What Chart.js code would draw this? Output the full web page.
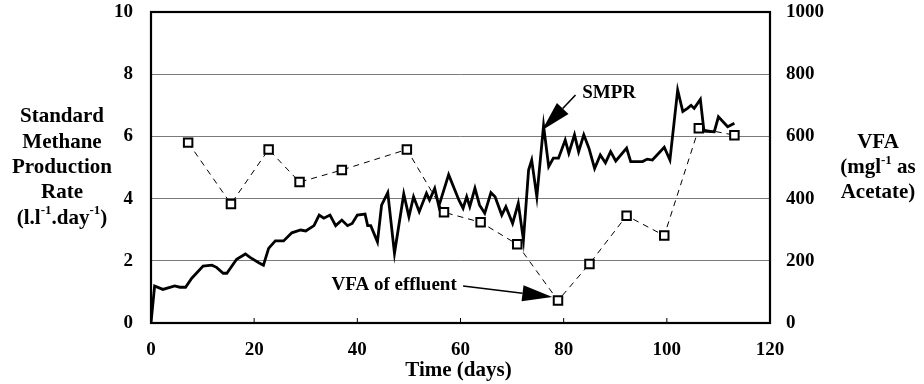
<!DOCTYPE html>
<html>
<head>
<meta charset="utf-8">
<script src="https://cdn.jsdelivr.net/npm/chart.js@4.4.0/dist/chart.umd.min.js"></script>
<style>
  body { margin: 0; background: #fff; }
  #wrap { width: 924px; height: 384px; position: relative; }
</style>
</head>
<body>
<div id="wrap"><canvas id="grafico"></canvas></div>
<script>
// SMPR (l/l.day)
var smprDias = [0, 0.7, 2.3, 4.6, 5.6, 6.7, 7.9, 10.1, 11.8, 12.7, 14.0, 14.7, 16.6, 18.3, 19.2, 20.9, 21.8,
    22.8, 24.1, 25.7, 27.3, 29.0, 30.0, 31.6, 32.6, 33.5, 34.7, 35.8, 37.0, 38.1, 39.0, 40.0, 41.5, 42.0,
    42.6, 43.9, 44.7, 45.9, 47.2, 49.0, 50.0, 50.9, 52.0, 53.4, 54.0, 55.0, 55.8, 57.7, 59.7, 60.5, 61.2,
    61.8, 62.8, 63.7, 64.7, 65.9, 66.7, 68.0, 68.8, 70.1, 71.2, 72.2, 73.2, 73.8, 74.8, 76.1, 77.1, 78.0,
    79.0, 80.3, 81.0, 82.1, 82.9, 83.9, 84.9, 86.0, 87.1, 88.1, 89.1, 90.1, 92.2, 93.0, 95.3, 96.2, 97.2,
    99.5, 100.6, 102.1, 103.1, 104.0, 104.7, 105.3, 106.5, 107.2, 109.2, 110.0, 111.8, 113.1];
var smprValores = [0, 1.19, 1.08, 1.19, 1.15, 1.15, 1.44, 1.83, 1.86, 1.79, 1.6, 1.6, 2.05, 2.22, 2.11, 1.94, 1.86,
    2.4, 2.64, 2.64, 2.9, 2.99, 2.96, 3.13, 3.47, 3.37, 3.47, 3.13, 3.31, 3.13, 3.2, 3.47, 3.5, 3.13,
    3.13, 2.61, 3.79, 4.19, 2.24, 4.15, 3.42, 4.06, 3.58, 4.17, 3.95, 4.33, 3.76, 4.77, 3.95, 3.69, 4.06,
    3.74, 4.33, 3.79, 3.53, 4.19, 4.06, 3.47, 3.74, 3.2, 3.85, 2.67, 4.92, 5.24, 4.06, 6.35, 5.03, 5.3,
    5.3, 5.88, 5.46, 6.05, 5.51, 6.05, 5.62, 4.97, 5.4, 5.15, 5.51, 5.21, 5.62, 5.19, 5.19, 5.27, 5.24,
    5.65, 5.24, 7.49, 6.8, 6.9, 7.0, 6.9, 7.19, 6.17, 6.15, 6.63, 6.31, 6.42];

// VFA of effluent (mg/l as acetate)
var vfaDias = [7.2, 15.5, 22.8, 28.8, 37.0, 49.6, 56.8, 63.9, 71.0, 78.9, 85.0, 92.2, 99.5, 106.2, 113.1];
var vfaValores = [580, 383, 558, 453, 492, 558, 356, 324, 253, 72, 190, 345, 281, 626, 604];

var ticksX = [0, 20, 40, 60, 80, 100, 120];

function MontarPontos(xs, ys) {
    var pontos = [];
    for (var i = 0; i < xs.length; i++) pontos.push({ x: xs[i], y: ys[i] });
    return pontos;
}

var fonte = "'Liberation Serif', 'Times New Roman', serif";

// text with superscripts, centred at cx
function TextoRico(ctx, partes, cx, cy, tam) {
    var total = 0;
    partes.forEach(function (p) {
        ctx.font = 'bold ' + (p.sup ? Math.round(tam * 0.62) : tam) + 'px ' + fonte;
        p.w = ctx.measureText(p.t).width;
        total += p.w;
    });
    var x = cx - total / 2;
    ctx.textAlign = 'left';
    ctx.textBaseline = 'middle';
    partes.forEach(function (p) {
        ctx.font = 'bold ' + (p.sup ? Math.round(tam * 0.62) : tam) + 'px ' + fonte;
        ctx.fillText(p.t, x, p.sup ? cy - tam * 0.35 : cy);
        x += p.w;
    });
}

function Seta(ctx, x1, y1, x2, y2) {
    var ang = Math.atan2(y2 - y1, x2 - x1);
    var comp = 30, larg = 8;
    var bx = x2 - comp * Math.cos(ang), by = y2 - comp * Math.sin(ang);
    ctx.strokeStyle = '#000';
    ctx.lineWidth = 1.6;
    ctx.beginPath();
    ctx.moveTo(x1, y1);
    ctx.lineTo(bx, by);
    ctx.stroke();
    ctx.fillStyle = '#000';
    ctx.beginPath();
    ctx.moveTo(x2, y2);
    ctx.lineTo(bx + larg * Math.sin(ang), by - larg * Math.cos(ang));
    ctx.lineTo(bx - larg * Math.sin(ang), by + larg * Math.cos(ang));
    ctx.closePath();
    ctx.fill();
}

var moldura = {
    id: 'moldura',
    afterDatasetsDraw: function (chart) {
        var ctx = chart.ctx, a = chart.chartArea;
        var sx = chart.scales.x, sy = chart.scales.y;
        ctx.save();
        // box
        ctx.strokeStyle = '#000';
        ctx.lineWidth = 2.2;
        ctx.strokeRect(a.left, a.top, a.right - a.left, a.bottom - a.top);
        // small inner ticks on x axis
        ctx.lineWidth = 1;
        ticksX.forEach(function (t) {
            var px = sx.getPixelForValue(t);
            ctx.beginPath();
            ctx.moveTo(px, a.bottom);
            ctx.lineTo(px, a.bottom - 5);
            ctx.stroke();
        });

        // annotations
        ctx.fillStyle = '#000';
        ctx.font = 'bold 19px ' + fonte;
        ctx.textAlign = 'left';
        ctx.textBaseline = 'middle';
        ctx.fillText('SMPR', sx.getPixelForValue(83.6), sy.getPixelForValue(7.4));
        Seta(ctx, sx.getPixelForValue(82.3), sy.getPixelForValue(7.33),
            sx.getPixelForValue(75.8), sy.getPixelForValue(6.2));
        ctx.fillText('VFA of effluent', sx.getPixelForValue(35.0), sy.getPixelForValue(1.22));
        Seta(ctx, sx.getPixelForValue(60.5), sy.getPixelForValue(1.19),
            sx.getPixelForValue(77.8), sy.getPixelForValue(0.84));

        // axis titles
        var h = 25.3;
        var cx = 62, y0 = 117;
        TextoRico(ctx, [{ t: 'Standard' }], cx, y0, 21);
        TextoRico(ctx, [{ t: 'Methane' }], cx, y0 + h, 21);
        TextoRico(ctx, [{ t: 'Production' }], cx, y0 + 2 * h, 21);
        TextoRico(ctx, [{ t: 'Rate' }], cx, y0 + 3 * h, 21);
        TextoRico(ctx, [{ t: '(l.l' }, { t: '-1', sup: true }, { t: '.day' }, { t: '-1', sup: true }, { t: ')' }], cx, y0 + 4 * h, 21);

        var rx = 878;
        TextoRico(ctx, [{ t: 'VFA' }], rx, 143, 21);
        TextoRico(ctx, [{ t: '(mgl' }, { t: '-1', sup: true }, { t: ' as' }], rx, 168, 21);
        TextoRico(ctx, [{ t: 'Acetate)' }], rx, 193, 21);

        TextoRico(ctx, [{ t: 'Time (days)' }], (a.left + a.right) / 2 - 2, 371, 21);
        ctx.restore();
    }
};

function SemPadding(s) {
    s.paddingTop = 0;
    s.paddingBottom = 0;
    s.paddingLeft = 0;
    s.paddingRight = 0;
}

var ctx = document.getElementById('grafico').getContext('2d');

var grafico = new Chart(ctx, {
    type: 'line',
    data: {
        datasets: [{
            label: 'SMPR',
            data: MontarPontos(smprDias, smprValores),
            yAxisID: 'y',
            borderColor: '#000',
            borderWidth: 2.8,
            pointRadius: 0,
            tension: 0,
            borderJoinStyle: 'miter'
        }, {
            label: 'VFA of effluent',
            data: MontarPontos(vfaDias, vfaValores),
            yAxisID: 'y2',
            borderColor: '#000',
            borderWidth: 1,
            borderDash: [6, 5],
            pointStyle: 'rect',
            pointRadius: 6,
            pointBorderWidth: 2,
            pointBackgroundColor: '#fff',
            pointBorderColor: '#000',
            tension: 0
        }]
    },
    options: {
        responsive: true,
        maintainAspectRatio: false,
        animation: false,
        events: [],
        layout: { padding: { top: 12, left: 0, right: 0, bottom: 0 } },
        plugins: {
            legend: { display: false },
            tooltip: { enabled: false }
        },
        scales: {
            x: {
                type: 'linear',
                min: 0,
                max: 120,
                afterBuildTicks: function (s) { s.ticks = ticksX.map(function (v) { return { value: v }; }); },
                grid: { display: false, drawTicks: false },
                border: { display: false },
                ticks: { color: '#000', padding: 16, maxRotation: 0, font: { family: fonte, size: 19, weight: 'bold' } },
                afterFit: function (s) { s.height = 61; SemPadding(s); }
            },
            y: {
                position: 'left',
                min: 0,
                max: 10,
                ticks: { stepSize: 2, color: '#000', padding: 18, font: { family: fonte, size: 19, weight: 'bold' } },
                grid: { color: '#7a7a7a', lineWidth: 1, drawTicks: false },
                border: { display: false },
                afterFit: function (s) { s.width = 151; SemPadding(s); }
            },
            y2: {
                position: 'right',
                min: 0,
                max: 1000,
                ticks: {
                    stepSize: 200, color: '#000', padding: 16,
                    font: { family: fonte, size: 19, weight: 'bold' },
                    callback: function (v) { return String(v); }
                },
                grid: { display: false, drawTicks: false },
                border: { display: false },
                afterFit: function (s) { s.width = 154; SemPadding(s); }
            }
        }
    },
    plugins: [moldura]
});
</script>
</body>
</html>
